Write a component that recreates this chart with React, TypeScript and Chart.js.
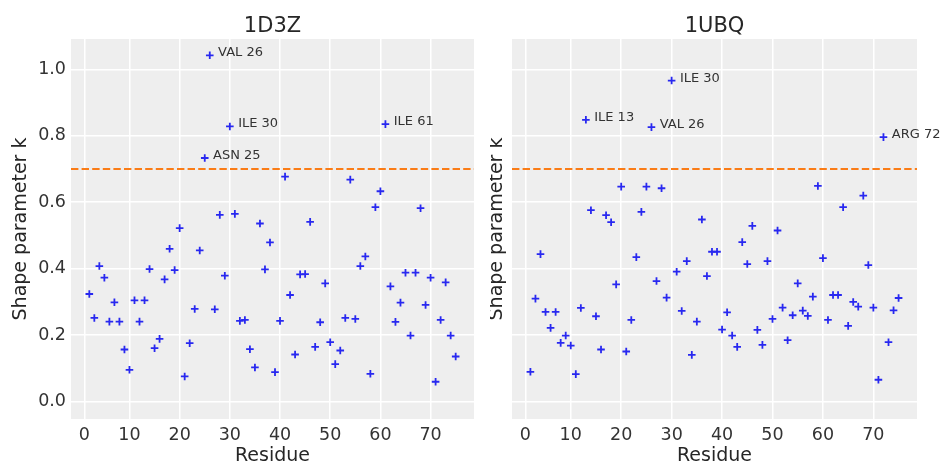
import React, { useEffect, useRef } from "react";
import { Chart, registerables } from "chart.js";

Chart.register(...registerables);

// ---------------- data ----------------
const RESIDUES = [
  2, 3, 4, 5, 6, 7, 8, 9, 10, 11, 12, 13, 14, 15, 16, 17, 18, 19, 20, 21, 22, 23, 24, 25, 26,
  27, 28, 29, 30, 31, 32, 33, 34, 35, 36, 37, 38, 39, 40, 41, 42, 43, 44, 45, 46, 47, 48, 49,
  50, 51, 52, 53, 54, 55, 56, 57, 58, 59, 60, 61, 62, 63, 64, 65, 66, 67, 68, 69, 70, 71, 72,
  73, 74, 75,
];

const K_1D3Z = [
  0.324, 0.252, 0.408, 0.373, 0.241, 0.299, 0.241, 0.157, 0.096, 0.305,
  0.241, 0.305, 0.399, 0.161, 0.189, 0.368, 0.46, 0.396, 0.522, 0.076,
  0.176, 0.279, 0.455, 0.733, 1.042, 0.278, 0.562, 0.379, 0.828, 0.565,
  0.243, 0.246, 0.158, 0.103, 0.536, 0.398, 0.479, 0.089, 0.243, 0.677,
  0.321, 0.142, 0.383, 0.384, 0.541, 0.165, 0.239, 0.356, 0.179, 0.113,
  0.154, 0.252, 0.668, 0.249, 0.408, 0.437, 0.084, 0.585, 0.633, 0.835,
  0.347, 0.24, 0.298, 0.388, 0.199, 0.388, 0.582, 0.291, 0.373, 0.06,
  0.246, 0.359, 0.199, 0.136,
];

const K_1UBQ = [
  0.09, 0.31, 0.444, 0.27, 0.222, 0.27, 0.177, 0.199, 0.169, 0.083,
  0.282, 0.848, 0.576, 0.257, 0.157, 0.561, 0.54, 0.353, 0.647, 0.151,
  0.246, 0.435, 0.571, 0.647, 0.826, 0.363, 0.642, 0.313, 0.966, 0.391,
  0.273, 0.423, 0.141, 0.241, 0.548, 0.378, 0.451, 0.451, 0.217, 0.269,
  0.199, 0.165, 0.48, 0.414, 0.529, 0.216, 0.171, 0.423, 0.249, 0.515,
  0.283, 0.185, 0.26, 0.356, 0.274, 0.258, 0.316, 0.649, 0.432, 0.246,
  0.321, 0.321, 0.585, 0.228, 0.3, 0.286, 0.62, 0.411, 0.283, 0.066,
  0.796, 0.179, 0.275, 0.312,
];

const THRESHOLD = 0.7;

const LABELLED_1D3Z = [25, 26, 30, 61];
const NAMES_1D3Z = ["ASN 25", "VAL 26", "ILE 30", "ILE 61"];
const LABELLED_1UBQ = [13, 26, 30, 72];
const NAMES_1UBQ = ["ILE 13", "VAL 26", "ILE 30", "ARG 72"];

const X_TICK_VALUES = [1, 10, 20, 30, 40, 50, 60, 70];
const X_TICK_LABELS = ["0", "10", "20", "30", "40", "50", "60", "70"];
const Y_TICK_VALUES = [0, 0.2, 0.4, 0.6, 0.8, 1.0];
const Y_TICK_LABELS = ["0.0", "0.2", "0.4", "0.6", "0.8", "1.0"];

const Y_MIN = -0.052;
const Y_MAX = 1.091;

// ---------------- style ----------------
const FONT = "'DejaVu Sans', 'Liberation Sans', sans-serif";
const POINT_COLOR = "rgb(40,40,240)";
const LINE_COLOR = "#fa7c17";
const TEXT_COLOR = "#262626";
const TICK_COLOR = "#333333";
const FACE_COLOR = "#eeeeee";

const W = 941;
const H = 464;

const xRange = () => {
  const lo = Math.min(...RESIDUES);
  const hi = Math.max(...RESIDUES);
  const m = (hi - lo) * 0.05;
  return { min: lo - m, max: hi + m };
};

const decorPlugin = {
  id: "decor",
  beforeDraw(chart: any, _args: any, opts: any) {
    const { ctx, chartArea: a } = chart;
    ctx.save();
    ctx.fillStyle = FACE_COLOR;
    ctx.fillRect(a.left, a.top, a.right - a.left, a.bottom - a.top);
    ctx.restore();
  },
  beforeDatasetsDraw(chart: any) {
    const { ctx, chartArea: a } = chart;
    const y = chart.scales.y.getPixelForValue(THRESHOLD);
    ctx.save();
    ctx.strokeStyle = LINE_COLOR;
    ctx.lineWidth = 2;
    ctx.setLineDash([7.4, 3.2]);
    ctx.beginPath();
    ctx.moveTo(a.left, y);
    ctx.lineTo(a.right, y);
    ctx.stroke();
    ctx.restore();
  },
  afterDraw(chart: any, _args: any, opts: any) {
    const { ctx, chartArea: a } = chart;
    const cx = (a.left + a.right) / 2;
    ctx.save();
    ctx.fillStyle = TEXT_COLOR;
    // title
    ctx.font = `21px ${FONT}`;
    ctx.textAlign = "center";
    ctx.textBaseline = "alphabetic";
    ctx.fillText(opts.title, cx, opts.titleY);
    // x label
    ctx.font = `19px ${FONT}`;
    ctx.fillText("Residue", cx, opts.xLabelY);
    // y label
    ctx.save();
    ctx.translate(opts.yLabelX, (a.top + a.bottom) / 2);
    ctx.rotate(-Math.PI / 2);
    ctx.textBaseline = "middle";
    ctx.fillText("Shape parameter k", 0, 0);
    ctx.restore();
    // annotations
    ctx.font = `13px ${FONT}`;
    ctx.textAlign = "left";
    ctx.fillStyle = TICK_COLOR;
    const xs = chart.scales.x;
    const ys = chart.scales.y;
    opts.residues.forEach((r: number, i: number) => {
      const idx = RESIDUES.indexOf(r);
      const k = opts.values[idx];
      const px = xs.getPixelForValue(r);
      const py = ys.getPixelForValue(k);
      ctx.fillText(opts.names[i], px + 8.3, py + 1);
    });
    ctx.restore();
  },
};

function makeConfig(
  values: number[],
  title: string,
  residues: number[],
  names: string[],
  showYTicks: boolean,
  yAxisWidth: number,
  rightPad: number,
  yLabelX: number
): any {
  const xr = xRange();
  return {
    type: "scatter",
    data: {
      datasets: [
        {
          data: RESIDUES.map((r, i) => ({ x: r, y: values[i] })),
          pointStyle: "cross",
          pointRadius: 3.8,
          pointHoverRadius: 3.8,
          pointBorderWidth: 1.8,
          borderColor: POINT_COLOR,
          backgroundColor: POINT_COLOR,
          showLine: false,
        },
      ],
    },
    options: {
      responsive: false,
      maintainAspectRatio: false,
      animation: false,
      events: [],
      layout: { padding: { top: 39, bottom: 0, left: 0, right: rightPad } },
      plugins: {
        legend: { display: false },
        tooltip: { enabled: false },
        title: { display: false },
        decor: {
          title,
          titleY: 32.3,
          xLabelY: 461,
          yLabelX,
          residues,
          names,
          values,
        },
      },
      scales: {
        x: {
          type: "linear",
          min: xr.min,
          max: xr.max,
          grid: { color: "#ffffff", lineWidth: 1.5, drawTicks: false },
          border: { display: false },
          ticks: {
            color: TICK_COLOR,
            font: { family: FONT, size: 17.5 },
            padding: 6,
            autoSkip: false,
            maxRotation: 0,
            includeBounds: false,
            callback: (_v: any, i: number) => X_TICK_LABELS[i],
          },
          afterBuildTicks: (s: any) => {
            s.ticks = X_TICK_VALUES.map((v) => ({ value: v }));
          },
          afterFit: (s: any) => {
            s.height = 45;
          },
        },
        y: {
          type: "linear",
          min: Y_MIN,
          max: Y_MAX,
          grid: { color: "#ffffff", lineWidth: 1.5, drawTicks: false },
          border: { display: false },
          ticks: {
            display: showYTicks,
            color: TICK_COLOR,
            font: { family: FONT, size: 17.5 },
            padding: 5,
            includeBounds: false,
            callback: (_v: any, i: number) => Y_TICK_LABELS[i],
          },
          afterBuildTicks: (s: any) => {
            s.ticks = Y_TICK_VALUES.map((v) => ({ value: v }));
          },
          afterFit: (s: any) => {
            s.width = yAxisWidth;
          },
        },
      },
    },
    plugins: [decorPlugin],
  };
}

function Panel(props: {
  left: number;
  width: number;
  values: number[];
  title: string;
  residues: number[];
  names: string[];
  showYTicks: boolean;
  yAxisWidth: number;
  rightPad: number;
  yLabelX: number;
}) {
  const ref = useRef<HTMLCanvasElement | null>(null);
  useEffect(() => {
    if (!ref.current) return;
    const chart = new Chart(
      ref.current,
      makeConfig(
        props.values,
        props.title,
        props.residues,
        props.names,
        props.showYTicks,
        props.yAxisWidth,
        props.rightPad,
        props.yLabelX
      )
    );
    return () => chart.destroy();
  }, []);
  return (
    <canvas
      ref={ref}
      width={props.width}
      height={H}
      style={{
        position: "absolute",
        left: props.left,
        top: 0,
        width: props.width,
        height: H,
      }}
    />
  );
}

export default function App() {
  return (
    <div
      style={{
        position: "absolute",
        left: 0,
        top: 0,
        width: W,
        height: H,
        background: "#ffffff",
        overflow: "hidden",
      }}
    >
      <Panel
        left={0}
        width={490}
        values={K_1D3Z}
        title="1D3Z"
        residues={LABELLED_1D3Z}
        names={NAMES_1D3Z}
        showYTicks={true}
        yAxisWidth={71}
        rightPad={16}
        yLabelX={21}
      />
      <Panel
        left={490}
        width={451}
        values={K_1UBQ}
        title="1UBQ"
        residues={LABELLED_1UBQ}
        names={NAMES_1UBQ}
        showYTicks={false}
        yAxisWidth={22}
        rightPad={24}
        yLabelX={7}
      />
    </div>
  );
}
